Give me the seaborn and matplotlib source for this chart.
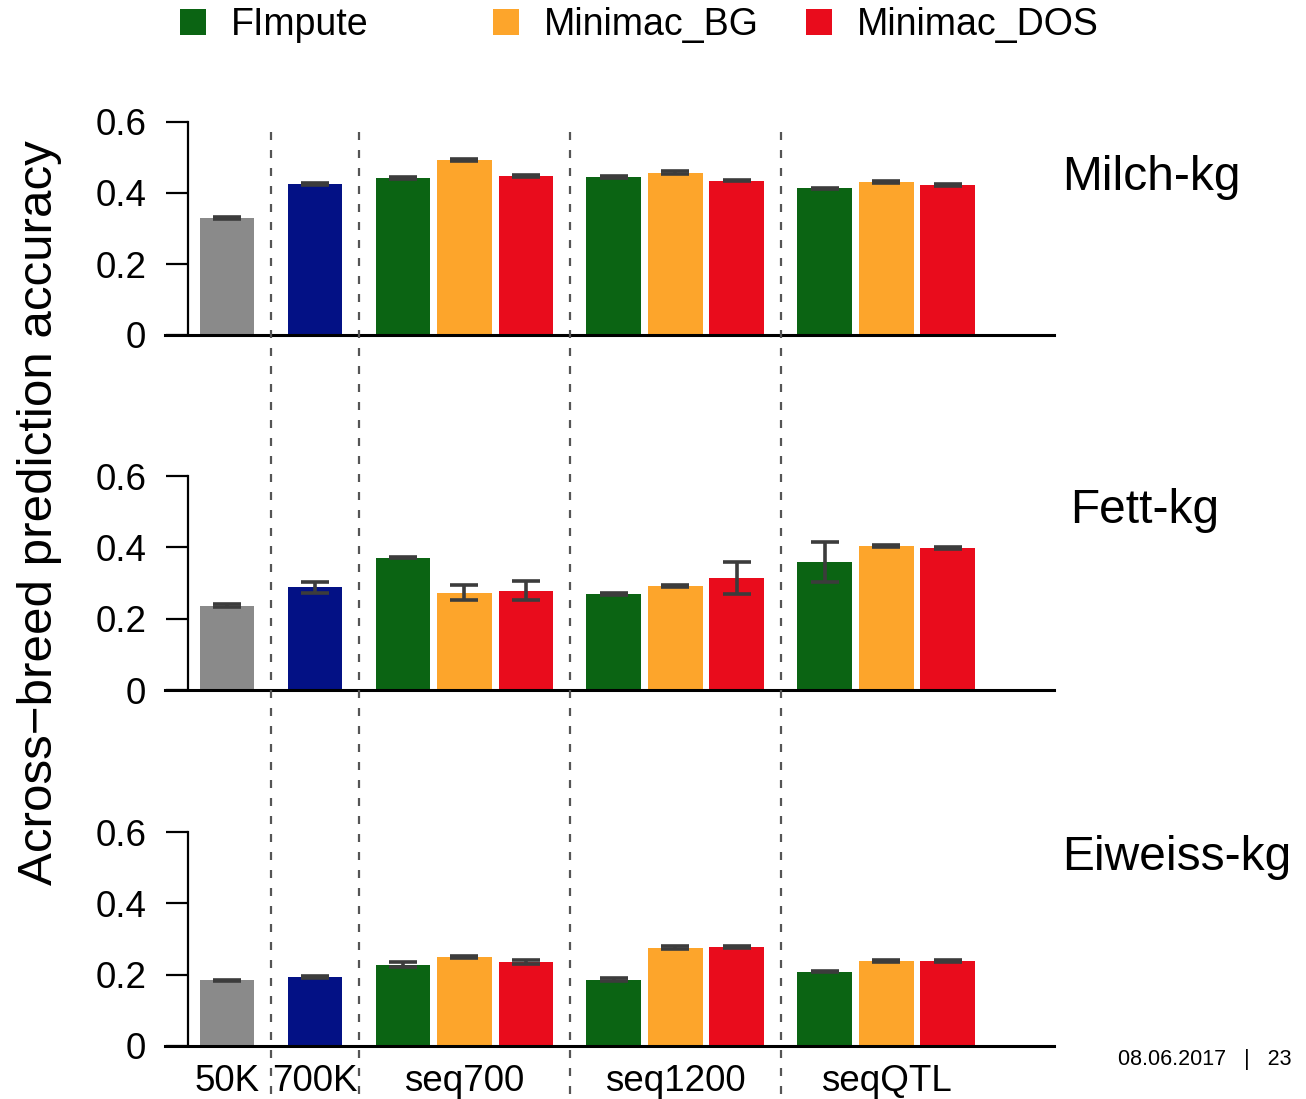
import numpy as np
import pandas as pd
import matplotlib
matplotlib.use("Agg")
import matplotlib.pyplot as plt
from matplotlib.lines import Line2D
from matplotlib.patches import Patch
from matplotlib.transforms import blended_transform_factory
import seaborn as sns

# ---- data -------------------------------------------------------------
groups = ["50K", "700K", "seq700", "seq1200", "seqQTL"]
group_series = [
    ["50K"],
    ["700K"],
    ["FImpute", "Minimac_BG", "Minimac_DOS"],
    ["FImpute", "Minimac_BG", "Minimac_DOS"],
    ["FImpute", "Minimac_BG", "Minimac_DOS"],
]
traits = ["Milch-kg", "Fett-kg", "Eiweiss-kg"]

# bar order: 50K, 700K, seq700 (F, BG, DOS), seq1200 (F, BG, DOS), seqQTL (F, BG, DOS)
milch_acc = [0.330, 0.426, 0.442, 0.493, 0.448, 0.446, 0.457, 0.435, 0.413, 0.432, 0.423]
milch_err = [0.003, 0.003, 0.002, 0.003, 0.002, 0.003, 0.004, 0.002, 0.002, 0.003, 0.002]

fett_acc = [0.236, 0.288, 0.371, 0.272, 0.278, 0.269, 0.291, 0.313, 0.359, 0.404, 0.399]
fett_err = [0.004, 0.015, 0.002, 0.021, 0.027, 0.002, 0.003, 0.045, 0.055, 0.002, 0.003]

eiweiss_acc = [0.184, 0.193, 0.228, 0.249, 0.236, 0.186, 0.276, 0.278, 0.208, 0.238, 0.238]
eiweiss_err = [0.002, 0.002, 0.007, 0.002, 0.005, 0.005, 0.005, 0.002, 0.001, 0.003, 0.002]

panel_acc = [milch_acc, fett_acc, eiweiss_acc]
panel_err = [milch_err, fett_err, eiweiss_err]

legend_series = ["FImpute", "Minimac_BG", "Minimac_DOS"]
colors = {
    "50K": "#8a8a8a",
    "700K": "#031185",
    "FImpute": "#0b6413",
    "Minimac_BG": "#fda52b",
    "Minimac_DOS": "#e90c1c",
}

# ---- layout of bar slots ---------------------------------------------
GROUP_STEP = 1.43   # distance between neighbouring groups (bar step inside a group = 1)
BAR_WIDTH = 0.89

positions, bar_series, group_centers, boundaries = [], [], [], []
x = -GROUP_STEP
for gi, ser in enumerate(group_series):
    x += GROUP_STEP
    first = x
    for j, s in enumerate(ser):
        if j > 0:
            x += 1
        positions.append(x)
        bar_series.append(s)
    group_centers.append((first + x) / 2)
    if gi < len(group_series) - 1:
        boundaries.append(x + GROUP_STEP / 2)

# ---- style -------------------------------------------------------------
sns.set_theme(style="white")
plt.rcParams["font.family"] = ["Liberation Sans", "DejaVu Sans"]
plt.rcParams["text.color"] = "black"
plt.rcParams["axes.labelcolor"] = "black"

W, H = 1306, 1099
fig = plt.figure(figsize=(W / 100, H / 100), dpi=100)

ax_left, ax_right = 165, 1054
zero_px = [335, 690, 1045.7]
top_px = [122, 476, 832.3]
label_pos = [(1062, 178), (1070, 510), (1062, 858)]

x_min = positions[0] - 1.008
x_max = positions[0] + (ax_right - 227) / 61.5

axes = []
for k in range(3):
    ax = fig.add_axes([ax_left / W, 1 - zero_px[k] / H,
                       (ax_right - ax_left) / W, (zero_px[k] - top_px[k]) / H])
    df = pd.DataFrame({"pos": positions, "acc": panel_acc[k], "series": bar_series})
    sns.barplot(data=df, x="pos", y="acc", hue="series", palette=colors,
                native_scale=True, dodge=False, width=BAR_WIDTH, saturation=1,
                errorbar=None, legend=False, linewidth=0, ax=ax)
    ax.errorbar(positions, panel_acc[k], yerr=panel_err[k], fmt="none",
                ecolor="#3c3c3c", elinewidth=2.6, capsize=10, capthick=2.6, zorder=5)

    ax.set_xlim(x_min, x_max)
    ax.set_ylim(0, 0.6)
    ax.set_xlabel("")
    ax.set_ylabel("")
    for side in ("top", "right"):
        ax.spines[side].set_visible(False)
    ax.spines["left"].set_position(("axes", (188 - ax_left) / (ax_right - ax_left)))
    ax.spines["left"].set_color("black")
    ax.spines["left"].set_linewidth(1.6)
    ax.spines["bottom"].set_color("black")
    ax.spines["bottom"].set_linewidth(2.2)

    ax.set_yticks([0, 0.2, 0.4, 0.6])
    ax.set_yticklabels(["0", "0.2", "0.4", "0.6"])
    ax.tick_params(axis="y", left=True, length=16, width=1.6, pad=14,
                   labelsize=26.5, colors="black", direction="out")

    if k == 2:
        ax.set_xticks(group_centers)
        ax.set_xticklabels(groups)
        ax.tick_params(axis="x", bottom=True, length=0, pad=13, labelsize=26.5,
                       colors="black")
    else:
        ax.set_xticks([])

    fig.text(label_pos[k][0] / W, 1 - label_pos[k][1] / H, traits[k],
             ha="left", va="center", fontsize=34.5, color="black")
    axes.append(ax)

# dashed separators running through all panels
trans = blended_transform_factory(axes[-1].transData, fig.transFigure)
for b in boundaries:
    fig.add_artist(Line2D([b, b], [1 - 132 / H, 0], transform=trans,
                          color="#555555", lw=1.6, linestyle=(0, (3.6, 4.5))))

# y axis title
fig.text(40 / W, 1 - 513 / H, "Across\u2212breed prediction accuracy",
         rotation=90, ha="center", va="center", fontsize=35.5, color="black")

# legend entries for the imputation methods
for name, xp in zip(legend_series, [180, 493, 806]):
    fig.legend(handles=[Patch(facecolor=colors[name], edgecolor="none")],
               labels=[name], loc="center left",
               bbox_to_anchor=(xp / W, 1 - 25 / H), frameon=False, fontsize=27,
               handlelength=0.68, handleheight=0.68, handletextpad=0.68,
               borderpad=0, borderaxespad=0, labelcolor="black")

fig.text(1292 / W, 1 - 1060 / H, "08.06.2017   |   23", ha="right", va="center",
         fontsize=15.5, color="black")

fig.savefig("out.png", dpi=100)
